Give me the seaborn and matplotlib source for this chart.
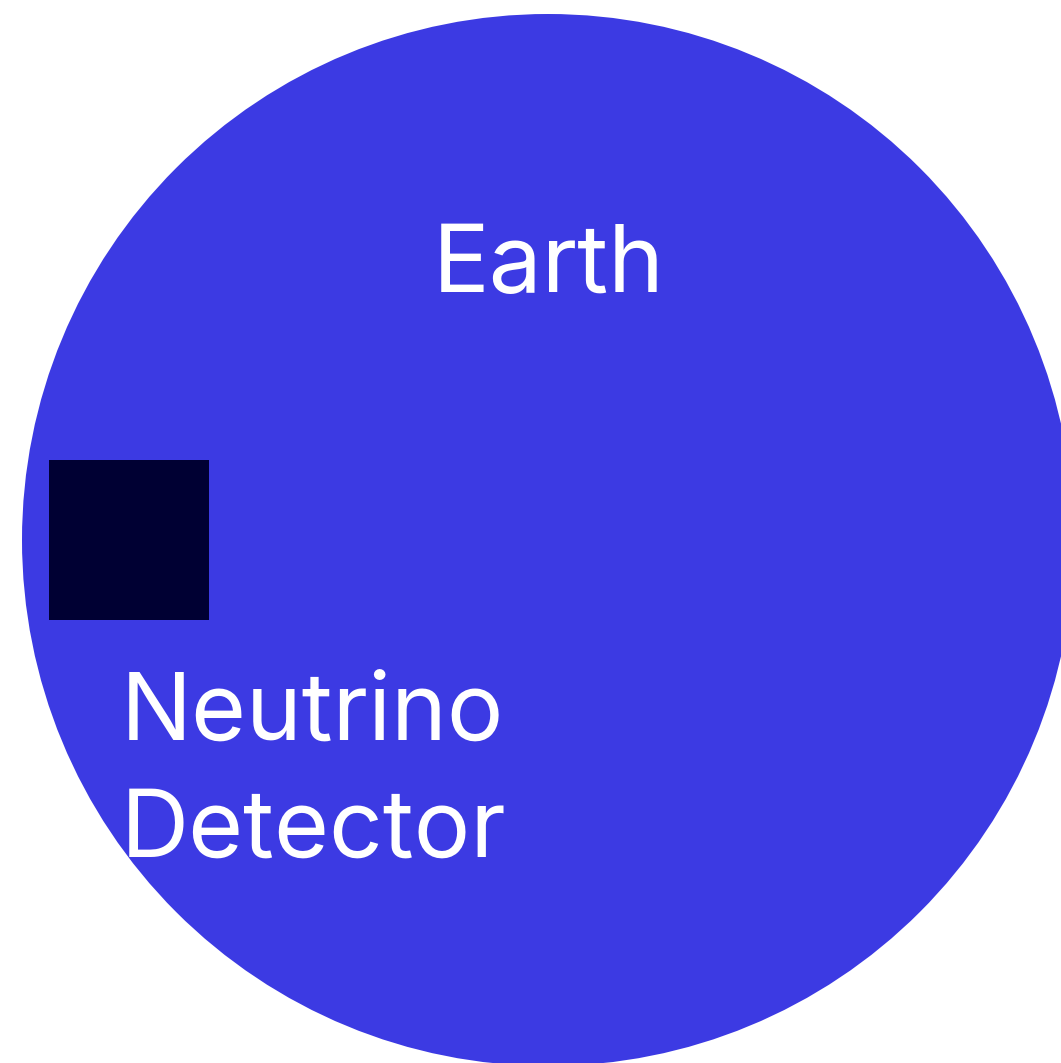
import matplotlib
matplotlib.use("Agg")
import matplotlib.pyplot as plt
import matplotlib.patches as mpatches
import seaborn as sns

# labels in the diagram
planet_label = "Earth"
detector_label = ["Neutrino", "Detector"]

# colours
earth_color = "#3C3AE3"
detector_color = "#000033"

sns.set_style("white")
plt.rcParams["font.family"] = ["Inter", "DejaVu Sans"]

fig = plt.figure(figsize=(10.61, 10.63), dpi=100)
ax = fig.add_axes([0, 0, 1, 1])
ax.set_xlim(0, 1061)
ax.set_ylim(1063, 0)
ax.set_aspect("equal")
ax.axis("off")

# the earth
ax.add_patch(mpatches.Circle((548, 540), 526, color=earth_color, lw=0))

# the detector box
ax.add_patch(mpatches.Rectangle((49, 460), 160, 160, color=detector_color, lw=0))

ax.text(549, 292, planet_label, color="white", fontsize=68,
        ha="center", va="baseline")
ax.text(121, 740, detector_label[0], color="white", fontsize=68,
        ha="left", va="baseline")
ax.text(121, 857, detector_label[1], color="white", fontsize=68,
        ha="left", va="baseline")

fig.savefig("out.png", dpi=100)
